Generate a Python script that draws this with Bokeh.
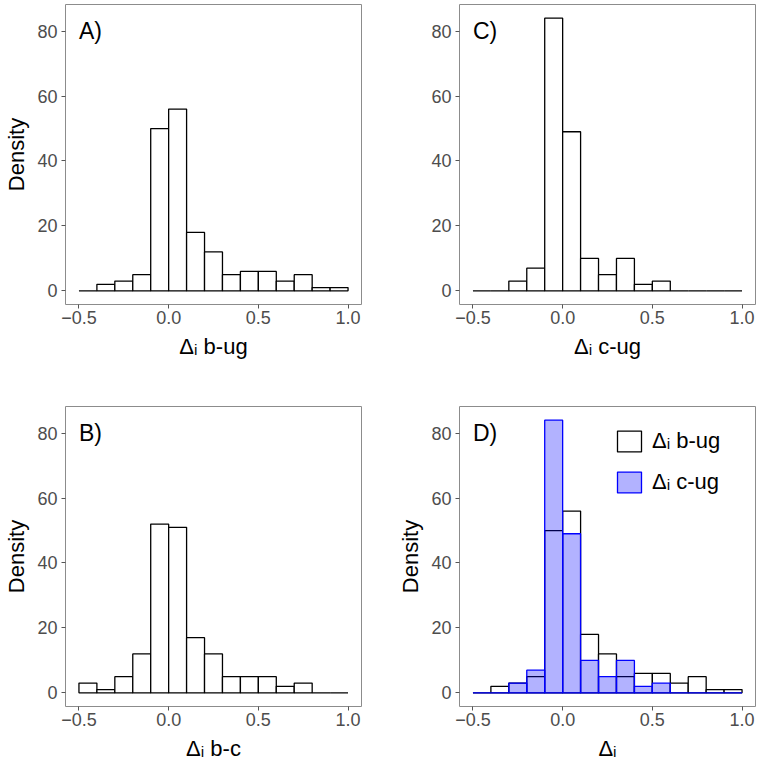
from bokeh.plotting import figure
from bokeh.layouts import column, row
from bokeh.models import Range1d, FixedTicker, Legend, LegendItem
from bokeh.core.properties import value
from bokeh.embed import file_html
from bokeh.resources import INLINE

# ---- data ----
bin_edges = [-0.5, -0.4, -0.3, -0.2, -0.1, 0.0, 0.1, 0.2, 0.3, 0.4, 0.5, 0.6, 0.7, 0.8, 0.9, 1.0]
density_b_ug = [0, 2, 3, 5, 50, 56, 18, 12, 5, 6, 6, 3, 5, 1, 1]
density_c_ug = [0, 0, 3, 7, 84, 49, 10, 5, 10, 2, 3, 0, 0, 0, 0]
density_b_c = [3, 1, 5, 12, 52, 51, 17, 12, 5, 5, 5, 2, 3, 0, 0]

x_ticks = [-0.5, 0.0, 0.5, 1.0]
x_tick_labels = ["\u22120.5", "0.0", "0.5", "1.0"]
y_ticks = [0, 20, 40, 60, 80]
y_tick_labels = ["0", "20", "40", "60", "80"]

panel_labels = ["A)", "B)", "C)", "D)"]
x_titles = ["\u0394\u1d62 b-ug", "\u0394\u1d62 b-c", "\u0394\u1d62 c-ug", "\u0394\u1d62"]
legend_labels = ["\u0394\u1d62 b-ug", "\u0394\u1d62 c-ug"]
y_title = "Density"

FONT = "Liberation Sans"
lefts = bin_edges[:-1]
rights = bin_edges[1:]


def make_fig(width, height, bl, br, bt, bb, xtitle, ytitle):
    p = figure(width=width, height=height, output_backend="svg", toolbar_location=None,
               x_range=Range1d(-0.575, 1.075), y_range=Range1d(-4.2, 88.2),
               min_border_left=bl, min_border_right=br, min_border_top=bt, min_border_bottom=bb)
    p.xgrid.visible = False
    p.ygrid.visible = False
    p.outline_line_color = "#8c8c8c"
    p.outline_line_width = 1
    p.background_fill_color = "white"
    p.border_fill_color = "white"
    p.xaxis.ticker = FixedTicker(ticks=x_ticks)
    p.xaxis.major_label_overrides = {t: l for t, l in zip(x_ticks, x_tick_labels)}
    p.yaxis.ticker = FixedTicker(ticks=y_ticks)
    p.yaxis.major_label_overrides = {t: l for t, l in zip(y_ticks, y_tick_labels)}
    for ax in (p.xaxis[0], p.yaxis[0]):
        ax.axis_line_color = None
        ax.major_tick_line_color = "#555555"
        ax.major_tick_in = 0
        ax.major_tick_out = 4
        ax.minor_tick_line_color = None
        ax.major_label_text_font = FONT
        ax.major_label_text_font_size = "18px"
        ax.major_label_text_color = "#4d4d4d"
        ax.axis_label_text_font = FONT
        ax.axis_label_text_font_size = "22px"
        ax.axis_label_text_font_style = "normal"
        ax.axis_label_text_color = "black"
    p.xaxis.major_label_standoff = 2
    p.xaxis.axis_label_standoff = 7
    p.yaxis.major_label_standoff = 4
    p.yaxis.axis_label_standoff = 5
    p.xaxis.axis_label = xtitle
    if ytitle:
        p.yaxis.axis_label = ytitle
    return p


def add_label(p, txt):
    p.text(x=[-0.5], y=[80], text=[txt], text_font=value(FONT), text_font_size="23px",
           text_align="left", text_baseline="middle", text_color="black")


def add_hist(p, vals, line_color="black", fill_color="white", fill_alpha=1.0):
    return p.quad(left=lefts, right=rights, top=vals, bottom=0,
                  fill_color=fill_color, fill_alpha=fill_alpha,
                  line_color=line_color, line_width=1.3)


pA = make_fig(378, 384, 65, 17, 4, 80, x_titles[0], y_title)
add_hist(pA, density_b_ug)
add_label(pA, panel_labels[0])

pC = make_fig(379, 384, 81, 2, 4, 80, x_titles[2], None)
add_hist(pC, density_c_ug)
add_label(pC, panel_labels[2])

pB = make_fig(378, 385, 65, 17, 22, 63, x_titles[1], y_title)
add_hist(pB, density_b_c)
add_label(pB, panel_labels[1])

pD = make_fig(379, 385, 81, 2, 22, 63, x_titles[3], y_title)
r1 = add_hist(pD, density_b_ug)
r2 = add_hist(pD, density_c_ug, line_color="#0000ff", fill_color="#0000ff", fill_alpha=0.3)
add_label(pD, panel_labels[3])
legend = Legend(items=[LegendItem(label=legend_labels[0], renderers=[r1]),
                       LegendItem(label=legend_labels[1], renderers=[r2])],
                location=(155, 211), padding=0, spacing=15, glyph_width=30, glyph_height=26,
                label_height=26, label_standoff=8, label_text_font=FONT,
                label_text_font_size="22px", label_text_color="black",
                border_line_color=None, background_fill_alpha=0)
pD.add_layout(legend)

layout = column(row(pA, pC), row(pB, pD))
open("out.html", "w").write(file_html(layout, INLINE))
